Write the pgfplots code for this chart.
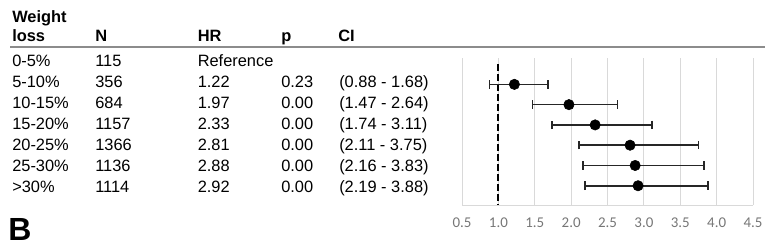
\documentclass[border=0pt]{standalone}
\usepackage{pgfplots}
\pgfplotsset{compat=1.18}
\usepackage{pgfplotstable}
\usepackage{fontspec}
\setmainfont{Liberation Sans}
\newfontfamily\tickfont{Carlito}
\definecolor{gridgray}{RGB}{217,217,217}
\definecolor{tickgray}{RGB}{118,118,118}
\definecolor{linegray}{RGB}{140,140,140}

\pgfplotstableread{
row hr em ep
1 1.22 0.34 0.46
2 1.97 0.50 0.67
3 2.33 0.59 0.78
4 2.81 0.70 0.94
5 2.88 0.72 0.95
6 2.92 0.73 0.96
}\foresttab

\begin{document}
\begin{tikzpicture}[x=0.75pt,y=0.75pt]
\useasboundingbox (0,0) rectangle (773,248);
\begin{axis}[
  at={(346.5pt,32.25pt)}, anchor=south west,
  width=218.25pt, height=110.25pt, scale only axis,
  xmin=0.5, xmax=4.5, ymin=-0.3, ymax=6.95, y dir=reverse,
  axis x line*=bottom, axis y line=none,
  x axis line style={draw=gridgray, line width=0.75pt, -},
  xtick={0.5,1.0,1.5,2.0,2.5,3.0,3.5,4.0,4.5},
  major tick length=0pt,
  xmajorgrids, grid style={draw=gridgray, line width=0.75pt},
  ytick=\empty,
  /pgf/number format/assume math mode=true,
  xticklabel={\pgfmathprintnumber[fixed,fixed zerofill,precision=1]{\tick}},
  xticklabel style={font=\tickfont\fontsize{11.2}{12}\selectfont, text=tickgray, yshift=-6pt},
  clip=false,
]
\addplot[black, line width=1.4pt, dash pattern=on 5pt off 2.5pt] coordinates {(1,0.0) (1,6.95)};
\addplot[only marks, mark=*, mark size=3.9pt, black,
  error bars/.cd, x dir=both, x explicit,
  error bar style={black!85, line width=1.2pt},
  error mark options={black!85, rotate=90, mark size=3.2pt, line width=1.2pt}]
  table[x=hr, y=row, x error minus=em, x error plus=ep] {\foresttab};
\end{axis}
\draw[draw=linegray, line width=1.5pt] (10,200.7) -- (765,200.7);
\begin{scope}[every node/.style={inner sep=0pt, anchor=base west, font=\fontsize{12.3}{14}\selectfont}]
\node[font=\bfseries\fontsize{12.3}{14}\selectfont] at (12,226) {Weight};
\node[font=\bfseries\fontsize{12.3}{14}\selectfont] at (12,206.3) {loss};
\node[font=\bfseries\fontsize{12.3}{14}\selectfont] at (95,206.3) {N};
\node[font=\bfseries\fontsize{12.3}{14}\selectfont] at (197.5,206.3) {HR};
\node[font=\bfseries\fontsize{12.3}{14}\selectfont] at (281,206.3) {p};
\node[font=\bfseries\fontsize{12.3}{14}\selectfont] at (338,206.3) {CI};
\node at (12,182) {0-5\%};
\node at (95,182) {115};
\node at (197.5,182) {Reference};
\foreach \i/\lab/\n/\hr/\p/\ci in {
  1/5-10\%/356/1.22/0.23/(0.88 - 1.68),
  2/10-15\%/684/1.97/0.00/(1.47 - 2.64),
  3/15-20\%/1157/2.33/0.00/(1.74 - 3.11),
  4/20-25\%/1366/2.81/0.00/(2.11 - 3.75),
  5/25-30\%/1136/2.88/0.00/(2.16 - 3.83),
  6/>30\%/1114/2.92/0.00/(2.19 - 3.88)}{
  \node at (12,{182-21.12*\i}) {\lab};
  \node at (95,{182-21.12*\i}) {\n};
  \node at (197.5,{182-21.12*\i}) {\hr};
  \node at (281,{182-21.12*\i}) {\p};
  \node at (339,{182-21.12*\i}) {\ci};
}
\end{scope}
\node[inner sep=0pt, anchor=base west, font=\bfseries\fontsize{24}{28}\selectfont] at (8,8) {B};
\end{tikzpicture}
\end{document}
